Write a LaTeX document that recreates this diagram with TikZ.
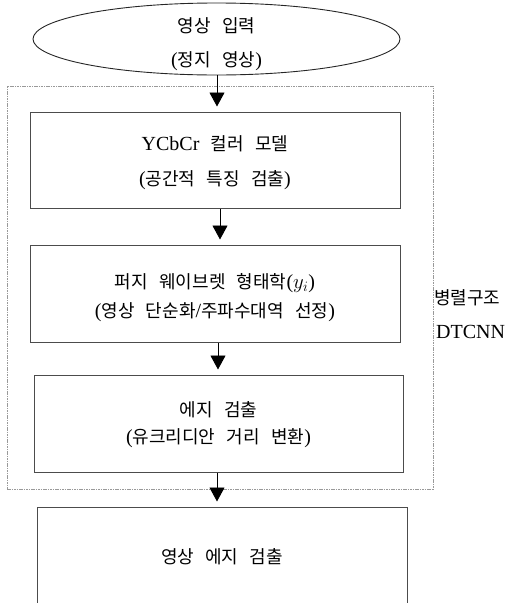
\documentclass[tikz,border=0pt]{standalone}
\usepackage{fontspec}
\setmainfont{Liberation Serif}
\newfontfamily\krfont[WordSpace=2.8]{Noto Sans CJK KR}
\newcommand{\K}{\krfont\fontsize{18}{21}\selectfont}
\usetikzlibrary{arrows.meta,shapes.geometric}
\tikzset{
  boxnode/.style={draw=black!70, line width=1pt, rectangle, inner sep=0pt},
  ovalnode/.style={draw=black!85, line width=0.9pt, ellipse, inner sep=0pt, minimum width=367pt, minimum height=72pt},
  dotbox/.style={draw=black!40, line width=0.8pt, dash pattern=on 1.6pt off 0.8pt, rectangle, inner sep=0pt},
  txt/.style={inner sep=0pt, font=\fontsize{20}{24}\selectfont, anchor=center},
  arr/.style={draw=black, line width=0.9pt, -{Triangle[length=14pt,width=15pt]}, shorten >=5pt},
}
\begin{document}
\begin{tikzpicture}[x=1pt,y=-1pt]
\useasboundingbox (0,0) rectangle (508,603);
\clip (0,0) rectangle (508,603);
% group box
\node[dotbox, minimum width=426pt, minimum height=403pt] (grp) at (220,287.5) {};
% start ellipse
\node[ovalnode] (in) at (216.5,39) {};
\node[txt] (in1) at (216.5,26) {\K 영상 입력};
\node[txt] (in2) at (216.5,61) {({\K 정지 영상})};
% boxes
\node[boxnode, minimum width=370pt, minimum height=96pt] (b1) at (215,160) {};
\node[txt] (b1a) at (215,144) {YCbCr{\K\ 컬러 모델}};
\node[txt] (b1b) at (215,180) {({\K 공간적 특징 검출})};
\node[boxnode, minimum width=370pt, minimum height=97pt] (b2) at (215,293.5) {};
\node[txt] (b2a) at (215,283) {{\K 퍼지 웨이브렛 형태학}($y_i$)};
\node[txt] (b2b) at (215,312) {({\K 영상 단순화}/{\K 주파수대역 선정})};
\node[boxnode, minimum width=369pt, minimum height=97pt] (b3) at (218.5,423.5) {};
\node[txt] (b3a) at (218.5,410) {\K 에지 검출};
\node[txt] (b3b) at (218.5,438) {({\K 유크리디안 거리 변환})};
\node[boxnode, minimum width=370pt, minimum height=113pt] (b4) at (222,563.5) {};
\node[txt] (b4a) at (222,557) {\K 영상 에지 검출};
% side labels
\node[txt, anchor=west] (lab1) at (434,298) {\K 병렬구조};
\node[txt, anchor=west] (lab2) at (436,332) {DTCNN};
% arrows
\draw[arr] ([xshift=0.5pt]in.south) -- ([xshift=0.5pt]in.south |- b1.north);
\draw[arr] ([xshift=5pt]b1.south) -- ([xshift=5pt]b1.south |- b2.north);
\draw[arr] ([xshift=3pt]b2.south) -- ([xshift=3pt]b2.south |- b3.north);
\draw[arr] ([xshift=-1.5pt]b3.south) -- ([xshift=-1.5pt]b3.south |- b4.north);
\end{tikzpicture}
\end{document}
